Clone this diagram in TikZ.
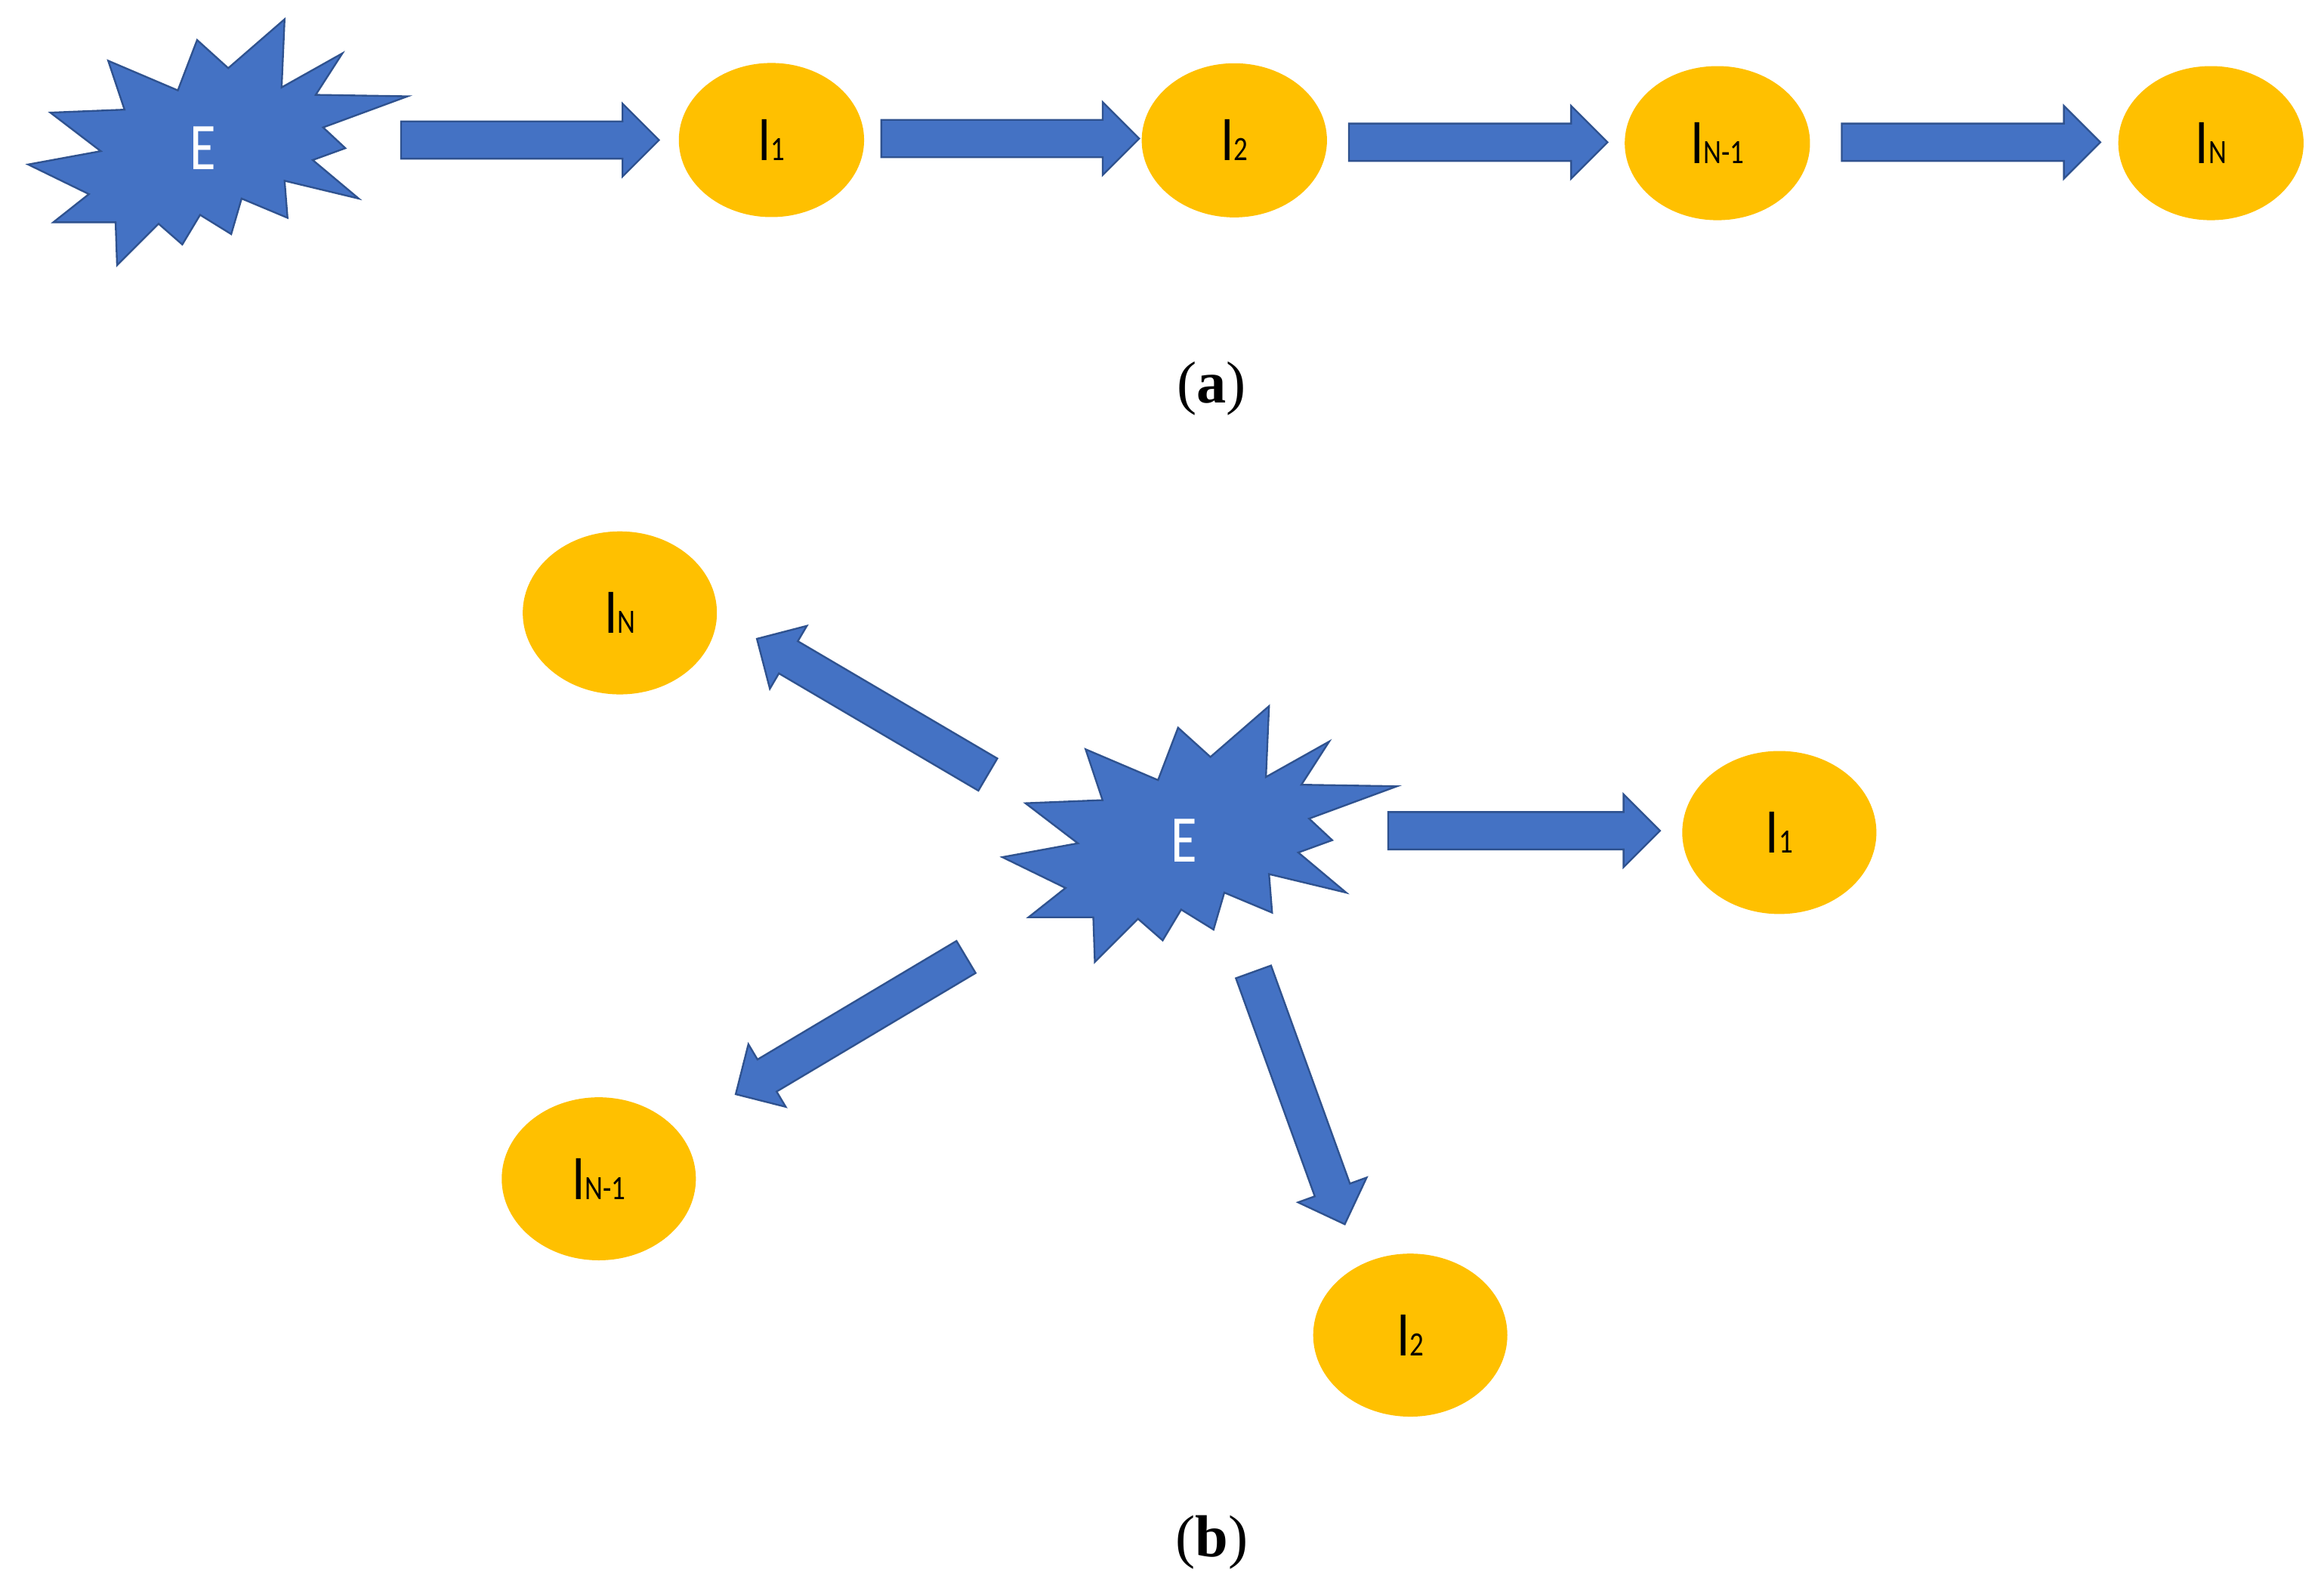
\documentclass[tikz,border=0pt]{standalone}
\usepackage{fontspec}
\setmainfont{Liberation Serif}
\newfontfamily\calibri{Carlito}
\usetikzlibrary{shapes.geometric,shapes.arrows,calc}

\definecolor{burstblue}{HTML}{4472C4}
\definecolor{burstedge}{HTML}{2F528F}
\definecolor{infgold}{HTML}{FFC000}

% label I with a small index on the same baseline
\newcommand{\ilbl}[1]{\scalebox{.82}[1]{I{\fontsize{23}{23}\selectfont #1}}}
% thick block arrow from one coordinate to another
\newcommand{\blockarrow}[2]{%
  \path let \p1=($(#2)-(#1)$), \n1={atan2(\y1,\x1)}, \n2={veclen(\x1,\y1)} in
    node[bigarrow, anchor=tail, minimum height=\n2, rotate=\n1] at (#1) {};}

\tikzset{
  burst/.pic={
    \filldraw[fill=burstblue, draw=burstedge, line width=1.2pt]
      (55,-87) -- (53,-41) -- (94,-64) -- (76,-36) -- (138,-35) -- (81,-14)
      -- (96,0) -- (74,8) -- (105,34) -- (55,22) -- (57,47) -- (26,34)
      -- (19,58) -- (-2,45) -- (-14,65) -- (-30,51) -- (-58,79) -- (-59,50)
      -- (-101,50) -- (-77,31) -- (-118,11) -- (-69,2) -- (-103,-24)
      -- (-53,-26) -- (-64,-59) -- (-17,-39) -- (-4,-73) -- (17,-54) -- cycle;
  }
}

\begin{document}
\begin{tikzpicture}[x=1pt, y=-1pt,
  every node/.style={inner sep=0pt},
  infnode/.style={shape=ellipse, fill=infgold, minimum width=125, minimum height=104,
    font=\calibri\fontsize{43}{43}\selectfont},
  infnodeb/.style={infnode, minimum width=131, minimum height=110},
  eventtext/.style={text=white, font=\calibri\fontsize{45}{45}\selectfont},
  bigarrow/.style={single arrow, fill=burstblue, draw=burstedge, line width=1.2pt,
    inner xsep=0pt, inner ysep=12pt, single arrow head extend=12pt,
    single arrow tip angle=90},
  caption/.style={font=\fontsize{40}{40}\selectfont}]

  \path[use as bounding box, fill=white] (0,0) rectangle (1568,1069.6);

  % (a) chain
  \pic at (137,100) {burst};
  \node[eventtext] (Ea) at (137,100) {\scalebox{.8}[1]{E}};
  \node[infnode] (a1) at (520.5,94.5) {\ilbl{1}};
  \node[infnode] (a2) at (832.8,94.7) {\ilbl{2}};
  \node[infnode] (a3) at (1158.7,96.6) {\ilbl{N-1}};
  \node[infnode] (a4) at (1491.7,96.6) {\ilbl{N}};

  \coordinate (ta1) at (270,94.5);   \coordinate (ha1) at (444,94.5);
  \coordinate (ta2) at (594,93.5);   \coordinate (ha2) at (768,93.5);
  \coordinate (ta3) at (909.5,96);   \coordinate (ha3) at (1084,96);
  \coordinate (ta4) at (1242,96);    \coordinate (ha4) at (1416.5,96);
  \blockarrow{ta1}{ha1}
  \blockarrow{ta2}{ha2}
  \blockarrow{ta3}{ha3}
  \blockarrow{ta4}{ha4}

  \node[caption] (capa) at (817.5,262) {({\bfseries a})};

  % (b) star
  \pic[scale=1.04] at (799,567) {burst};
  \node[eventtext] (Eb) at (799,567) {\scalebox{.8}[1]{E}};
  \node[infnodeb] (bN) at (418.2,413.6) {\ilbl{N}};
  \node[infnodeb] (b1) at (1200.5,561.8) {\ilbl{1}};
  \node[infnodeb] (bM) at (404,795.5) {\ilbl{N-1}};
  \node[infnodeb] (b2) at (951.5,901) {\ilbl{2}};

  \coordinate (tb1) at (936,560.6);   \coordinate (hb1) at (1119.4,560.6);
  \coordinate (tbN) at (667,523);     \coordinate (hbN) at (511.2,431.4);
  \coordinate (tbM) at (652.3,645.5); \coordinate (hbM) at (496.9,738.1);
  \coordinate (tb2) at (845.5,655.3); \coordinate (hb2) at (907.1,825.6);
  \blockarrow{tb1}{hb1}
  \blockarrow{tbN}{hbN}
  \blockarrow{tbM}{hbM}
  \blockarrow{tb2}{hb2}

  \node[caption] (capb) at (817.5,1041) {({\bfseries b})};
\end{tikzpicture}
\end{document}
